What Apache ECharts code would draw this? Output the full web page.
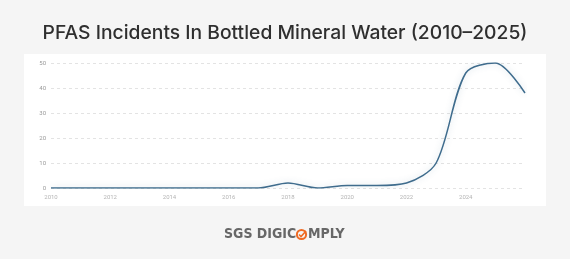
<!DOCTYPE html>
<html>
<head>
<meta charset="utf-8">
<script src="https://cdn.jsdelivr.net/npm/echarts@6/dist/echarts.min.js"></script>
<style>
  html, body { margin: 0; padding: 0; background: #f5f5f5; }
  #chart { width: 570px; height: 259px; }
</style>
</head>
<body>
<div id="chart"></div>
<script>
// years along the x axis and incidents per year
const years = [2010, 2011, 2012, 2013, 2014, 2015, 2016, 2017, 2018, 2019, 2020, 2021, 2022, 2023, 2024, 2025, 2026];
const incidents = [0, 0, 0, 0, 0, 0, 0, 0, 2, 0, 1, 1, 2, 10, 46, 50, 38];
const yTicks = [0, 10, 20, 30, 40, 50];

let chart = echarts.init(document.getElementById('chart'));
chart.setOption({
  backgroundColor: '#f5f5f5',
  animation: false,
  title: {
    text: 'PFAS Incidents In Bottled Mineral Water (2010–2025)',
    left: 'center',
    top: 19,
    textStyle: {
      fontFamily: 'Inter',
      fontWeight: 500,
      fontSize: 19.3,
      color: '#2f2f2f'
    }
  },
  graphic: [
    {
      type: 'rect',
      z: -10,
      shape: { x: 24, y: 54, width: 522, height: 152 },
      style: { fill: '#ffffff' }
    },
    {
      type: 'text',
      left: 224,
      top: 227,
      style: {
        text: 'SGS DIGIC',
        font: 'bold 14px "DejaVu Sans Condensed"',
        fill: '#676767'
      }
    },
    {
      type: 'circle',
      shape: { cx: 301.5, cy: 234.5, r: 4.6 },
      style: { fill: 'none', stroke: '#ef6a22', lineWidth: 2 }
    },
    {
      type: 'polyline',
      shape: { points: [[299, 234.5], [301, 236.5], [306, 231]] },
      style: { fill: 'none', stroke: '#ef6a22', lineWidth: 1.6 }
    },
    {
      type: 'text',
      left: 308,
      top: 227,
      style: {
        text: 'MPLY',
        font: 'bold 14px "DejaVu Sans Condensed"',
        fill: '#676767'
      }
    }
  ],
  grid: {
    left: 51,
    right: 45,
    top: 63,
    bottom: 71
  },
  xAxis: {
    type: 'value',
    min: 2010,
    max: 2026,
    interval: 2,
    axisLine: { show: false },
    axisTick: { show: false },
    splitLine: { show: false },
    axisLabel: {
      showMaxLabel: false,
      margin: 6,
      fontSize: 6,
      color: '#b5b5b5',
      fontFamily: 'Roboto',
      formatter: v => String(v)
    }
  },
  yAxis: {
    type: 'value',
    min: yTicks[0],
    max: yTicks[yTicks.length - 1],
    interval: 10,
    axisLine: { show: false },
    axisTick: { show: false },
    axisLabel: {
      margin: 5,
      fontSize: 6,
      color: '#999999',
      fontFamily: 'Roboto'
    },
    splitLine: {
      lineStyle: {
        color: '#e3e3e3',
        type: [3, 3]
      }
    }
  },
  series: [
    {
      type: 'line',
      smooth: 0.3,
      showSymbol: false,
      data: years.map((y, i) => [y, incidents[i]]),
      lineStyle: {
        width: 1.5,
        color: '#3f6c8d',
        shadowColor: 'rgba(63,108,141,0.25)',
        shadowBlur: 6
      }
    }
  ]
});
</script>
</body>
</html>
